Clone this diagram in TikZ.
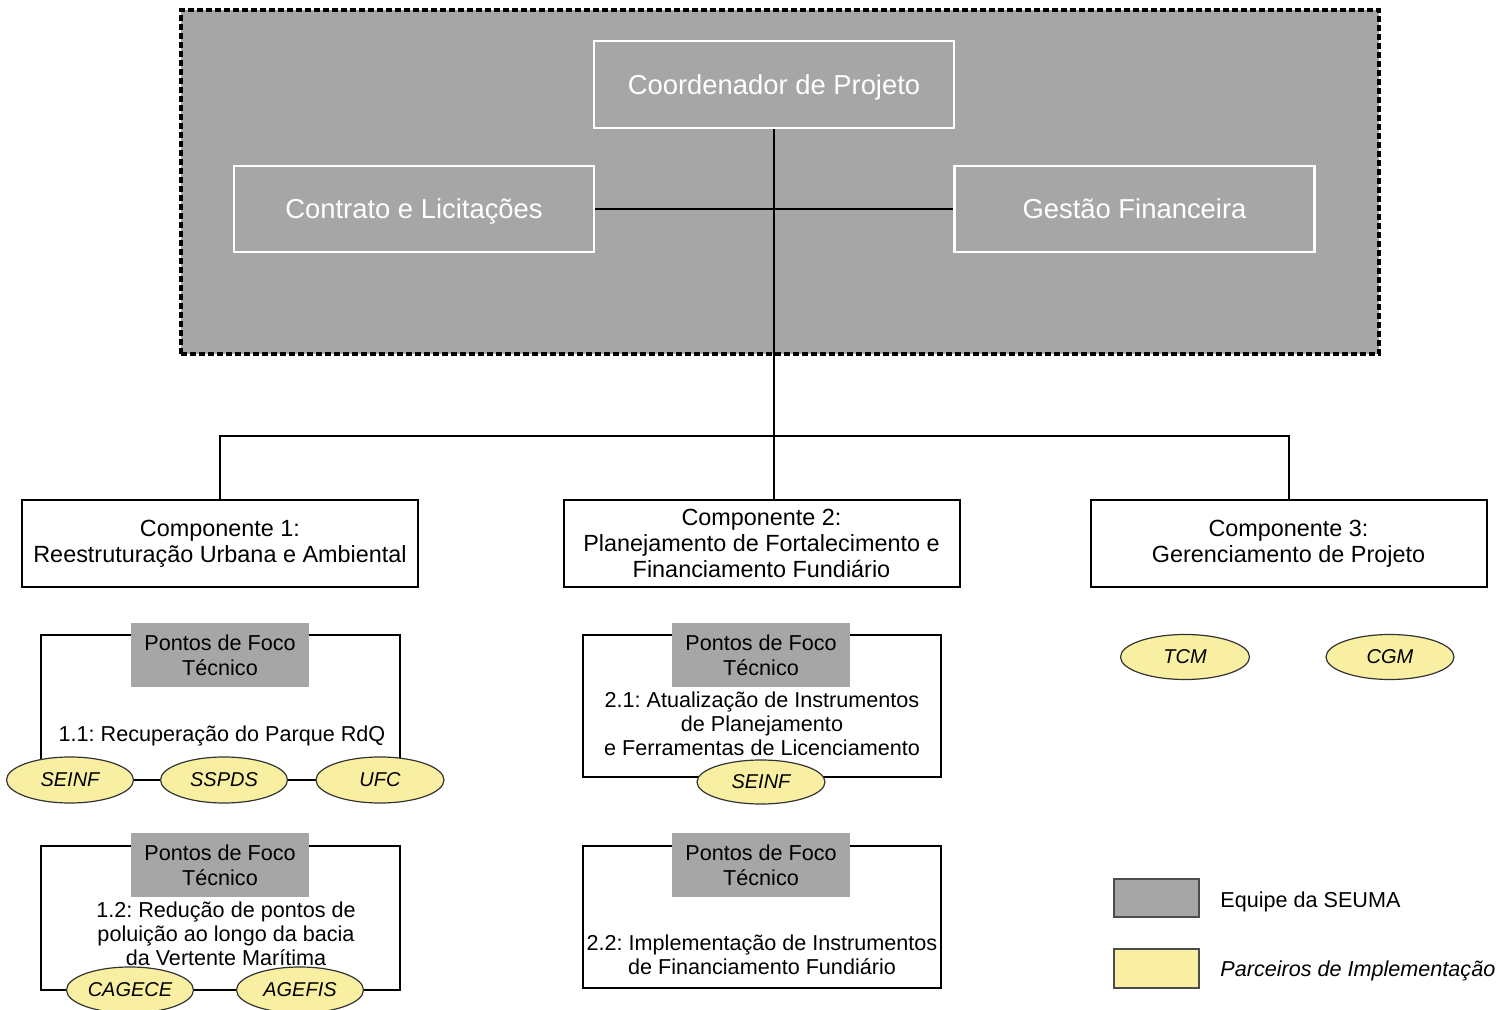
\documentclass[tikz,border=0pt]{standalone}
\usepackage{fontspec}
\setmainfont{Liberation Sans}
\frenchspacing
\usetikzlibrary{shapes.geometric}
\definecolor{seumagray}{HTML}{A6A6A6}
\definecolor{partneryellow}{HTML}{F9EFA3}
\tikzset{
  topbox/.style={draw=white, line width=1.2pt, fill=seumagray, text=white,
    minimum width=180pt, minimum height=43.5pt, inner sep=0pt,
    text depth=0pt, font=\fontsize{13.7}{16}\selectfont},
  compbox/.style={draw=black, line width=1pt, fill=white, align=center,
    minimum width=198pt, minimum height=43.5pt, inner sep=0pt,
    font=\fontsize{11.7}{13}\selectfont},
  focusframe/.style={draw=black, line width=1pt, minimum width=179.5pt,
    minimum height=72pt, inner sep=0pt},
  focuslabel/.style={fill=seumagray, align=center, minimum width=89pt,
    minimum height=32pt, inner sep=0pt, font=\fontsize{10.8}{12.5}\selectfont},
  focustext/.style={align=center, inner sep=0pt,
    font=\fontsize{10.8}{12}\selectfont},
  partner/.style={ellipse, draw=black!80, line width=0.6pt, fill=partneryellow,
    minimum width=63.5pt, minimum height=23pt, inner sep=0pt,
    font=\fontsize{10}{12}\selectfont\itshape},
  wire/.style={draw=black, line width=1pt},
  legendbox/.style={draw=black!70, line width=0.6pt, minimum width=42.5pt,
    minimum height=19pt, inner sep=0pt},
  legendtext/.style={anchor=west, inner sep=0pt, font=\fontsize{10.8}{12}\selectfont}
}
\begin{document}
\begin{tikzpicture}[x=0.5pt, y=-0.5pt]
\useasboundingbox (0,0) rectangle (1511,1010);

% SEUMA team area
\node[draw=black, line width=1.6pt, dash pattern=on 3pt off 1.5pt, fill=seumagray,
  minimum width=599pt, minimum height=172pt, inner sep=0pt] (seuma) at (780,182) {};
\node[topbox] (coord) at (774,84.5) {Coordenador de Projeto};
\node[topbox, minimum height=43pt] (contrato) at (414,209) {Contrato e Licitações};
\node[topbox, minimum height=43pt] (gestao) at (1134.5,209) {Gestão Financeira};

% components
\node[compbox] (comp1) at (220,543.5) {Componente 1:\\Reestruturação Urbana e Ambiental};
\node[compbox] (comp2) at (761.5,543.5) {Componente 2:\\Planejamento de Fortalecimento e\\Financiamento Fundiário};
\node[compbox] (comp3) at (1288.5,543.5) {Componente 3:\\Gerenciamento de Projeto};

% hierarchy wires
\coordinate (bus) at (774,436);
\draw[wire] (contrato.east) -- (gestao.west);
\draw[wire] (coord.south) -- (coord.south |- comp2.north);
\draw[wire] (comp1.north) |- (bus) -| (comp3.north);

% focus point 1.1
\node[focusframe, minimum height=72.5pt] (f11) at (220.5,707.5) {};
\node[focuslabel] (l11) at (220,655) {Pontos de Foco\\Técnico};
\node[focustext] (t11) at (222,736) {1.1: Recuperação do Parque RdQ};
\node[partner] (seinf1) at (70,780) {SEINF};
\node[partner] (sspds) at (224,780) {SSPDS};
\node[partner, minimum width=64pt] (ufc) at (380,780) {UFC};

% focus point 1.2
\node[focusframe] (f12) at (220.5,918) {};
\node[focuslabel] (l12) at (220,865) {Pontos de Foco\\Técnico};
\node[focustext] (t12) at (226,934) {1.2: Redução de pontos de\\poluição ao longo da bacia\\da Vertente Marítima};
\node[partner] (cagece) at (130,990) {CAGECE};
\node[partner] (agefis) at (300,990) {AGEFIS};

% focus point 2.1
\node[focusframe, minimum width=179pt, minimum height=71pt] (f21) at (762,706) {};
\node[focuslabel] (l21) at (761,655) {Pontos de Foco\\Técnico};
\node[focustext] (t21) at (762,724) {2.1: Atualização de Instrumentos\\de Planejamento\\e Ferramentas de Licenciamento};
\node[partner, minimum width=64pt, minimum height=22pt] (seinf2) at (761,782) {SEINF};

% focus point 2.2
\node[focusframe, minimum width=179pt, minimum height=71pt] (f22) at (762,917) {};
\node[focuslabel] (l22) at (761,865) {Pontos de Foco\\Técnico};
\node[focustext] (t22) at (762,955) {2.2: Implementação de Instrumentos\\de Financiamento Fundiário};

% component 3 partners
\node[partner, minimum width=64.5pt, minimum height=22.5pt] (tcm) at (1185,657) {TCM};
\node[partner, minimum width=64pt, minimum height=22.5pt] (cgm) at (1390,657) {CGM};

% legend
\node[legendbox, fill=seumagray] (lgray) at (1156.5,898) {};
\node[legendtext] (lgraytext) at (1220,902) {Equipe da SEUMA};
\node[legendbox, fill=partneryellow, minimum height=19.5pt] (lyellow) at (1156.5,968.5) {};
\node[legendtext, font=\fontsize{10.8}{12}\selectfont\itshape] (lyellowtext) at (1220,971) {Parceiros de Implementação};
\end{tikzpicture}
\end{document}
